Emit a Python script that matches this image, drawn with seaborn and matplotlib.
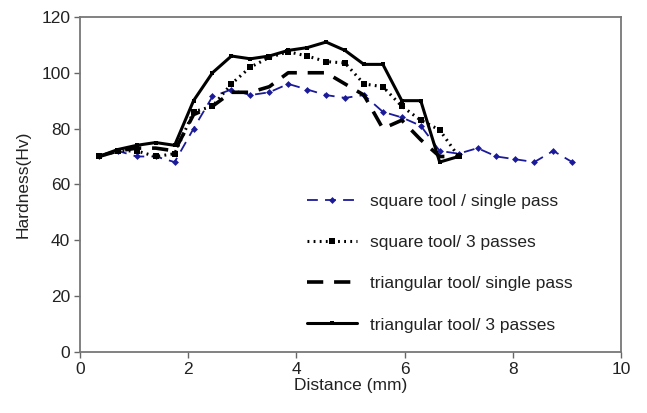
import numpy as np
import pandas as pd
import matplotlib
matplotlib.use("Agg")
import matplotlib.pyplot as plt
import seaborn as sns

# Data
dist_long = [0.35, 0.70, 1.05, 1.40, 1.75, 2.10, 2.45, 2.80, 3.15, 3.50, 3.85, 4.20, 4.55,
             4.90, 5.25, 5.60, 5.95, 6.30, 6.65, 7.00, 7.35, 7.70, 8.05, 8.40, 8.75, 9.10]
dist_short = dist_long[:20]

square_single = [70, 72, 70, 70, 68, 80, 91.5, 94, 92, 93, 96, 94, 92,
                 91, 92, 86, 84, 81, 72, 71, 73, 70, 69, 68, 72, 68]
square_3 = [70, 72, 72, 70, 71, 86, 88, 96, 102, 105.5, 107.5, 106, 104,
            103.5, 96, 95, 88, 83, 79.5, 70]
tri_single = [70, 72, 73, 73, 72, 85, 88, 93, 93, 95, 100, 100, 100,
              96, 92, 80, 83, 76, 70, 70]
tri_3 = [70, 72.5, 74, 75, 74, 90, 100, 106, 105, 106, 108, 109, 111,
         108, 103, 103, 90, 90, 68, 70]

labels = ["square tool / single pass", "square tool/ 3 passes",
          "triangular tool/ single pass", "triangular tool/ 3 passes"]

sns.set_style("white")
plt.rcParams['font.family'] = ['Liberation Sans', 'DejaVu Sans']

fig = plt.figure(figsize=(6.47, 4.13), dpi=100)
ax = fig.add_axes([0.1236, 0.148, 0.836, 0.811])

sns.lineplot(x=dist_long, y=square_single, ax=ax, color="#1a1a9a", lw=1.3,
             linestyle=(0, (6, 4)), marker="D", markersize=3.5, markeredgewidth=0,
             label=labels[0])
sns.lineplot(x=dist_short, y=square_3, ax=ax, color="black", lw=2.2,
             linestyle=(0, (0.6, 1.4)), marker="s", markersize=5, markeredgewidth=0,
             label=labels[1])
sns.lineplot(x=dist_short, y=tri_single, ax=ax, color="black", lw=2.6,
             linestyle=(0, (4.5, 3)), label=labels[2])
sns.lineplot(x=dist_short, y=tri_3, ax=ax, color="black", lw=2.2,
             linestyle="-", marker="s", markersize=3.5, markeredgewidth=0,
             label=labels[3])

ax.set_xlim(0, 10)
ax.set_ylim(0, 120)
ax.set_xticks([0, 2, 4, 6, 8, 10])
ax.set_yticks([0, 20, 40, 60, 80, 100, 120])
ax.set_xlabel("Distance (mm)", fontsize=12.5, color="#222222", labelpad=1)
ax.set_ylabel("Hardness(Hv)", fontsize=12.5, color="#222222", labelpad=8)
ax.tick_params(axis="both", labelsize=12.5, labelcolor="#222222", direction="out",
               length=4, width=1, left=True, bottom=True, pad=3, color="#666666")
for s in ax.spines.values():
    s.set_visible(True)
    s.set_color("#777777")
    s.set_linewidth(1.3)

leg = ax.legend(loc="upper left", bbox_to_anchor=(0.42, 0.472), frameon=False,
                fontsize=12.5, labelspacing=1.5, handlelength=2.9, handletextpad=0.7,
                borderaxespad=0, borderpad=0)
for t in leg.get_texts():
    t.set_color("#222222")

fig.savefig("out.png", dpi=100)
